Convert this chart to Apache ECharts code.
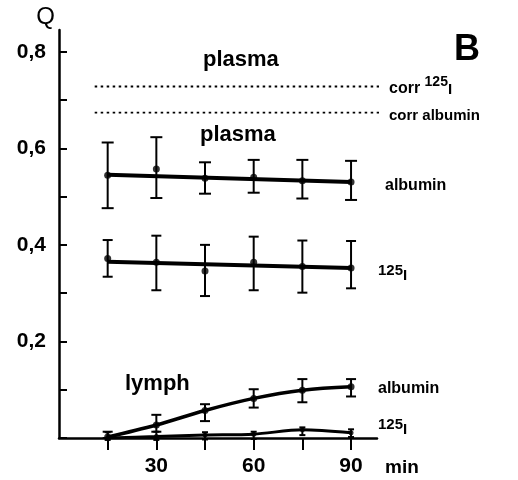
<!DOCTYPE html>
<html>
<head>
<meta charset="utf-8">
<script src="https://cdn.jsdelivr.net/npm/echarts@6/dist/echarts.min.js"></script>
<style>
  html, body { margin: 0; padding: 0; background: #fff; }
  #chart { width: 518px; height: 480px; }
</style>
</head>
<body>
<div id="chart"></div>
<script>
// minutes after injection
const minutes = [15, 30, 45, 60, 75, 90];

// plasma, albumin
const plasmaAlbumin = [0.544, 0.557, 0.538, 0.540, 0.533, 0.530];
const plasmaAlbuminLow = [0.476, 0.497, 0.506, 0.508, 0.496, 0.493];
const plasmaAlbuminHigh = [0.612, 0.623, 0.571, 0.576, 0.576, 0.574];

// plasma, 125I
const plasmaIodine = [0.372, 0.364, 0.346, 0.364, 0.355, 0.352];
const plasmaIodineLow = [0.334, 0.306, 0.294, 0.306, 0.301, 0.310];
const plasmaIodineHigh = [0.410, 0.419, 0.400, 0.417, 0.409, 0.408];

// lymph, albumin
const lymphAlbumin = [0.002, 0.027, 0.057, 0.082, 0.099, 0.106];
const lymphAlbuminLow = [0.000, 0.013, 0.035, 0.063, 0.074, 0.086];
const lymphAlbuminHigh = [0.013, 0.048, 0.070, 0.101, 0.122, 0.122];

// lymph, 125I
const lymphIodine = [0.000, 0.003, 0.006, 0.008, 0.017, 0.011];
const lymphIodineLow = [-0.004, -0.004, -0.003, -0.002, 0.006, 0.002];
const lymphIodineHigh = [0.012, 0.013, 0.012, 0.013, 0.022, 0.018];

// fitted lines for plasma
const fitX = [15, 90];
const plasmaAlbuminFit = [0.545, 0.530];
const plasmaIodineFit = [0.365, 0.352];

// corrected plasma levels (dotted)
const corrX = [11, 100.5];
const corrIodine = [0.728, 0.728];
const corrAlbumin = [0.674, 0.674];

// ticks
const xTicks = [15, 30, 45, 60, 75, 90];
const xLabels = [30, 60, 90];
const yTicks = [0, 0.1, 0.2, 0.3, 0.4, 0.5, 0.6, 0.7, 0.8];
const yLabels = [0.2, 0.4, 0.6, 0.8];

const zip = (xs, ys) => xs.map((x, i) => [x, ys[i]]);
const bars = (lo, hi) => minutes.map((x, i) => [x, lo[i], hi[i]]);

const chart = echarts.init(document.getElementById('chart'));
const font = '"Liberation Sans", Arial, sans-serif';

// error bar drawn through the axes' own scales
function errorBar(capW) {
  return function (params, api) {
    const x = api.value(0);
    const lo = api.coord([x, api.value(1)]);
    const hi = api.coord([x, api.value(2)]);
    const st = { stroke: '#000', lineWidth: 2 };
    return {
      type: 'group',
      children: [
        { type: 'line', shape: { x1: lo[0], y1: lo[1], x2: hi[0], y2: hi[1] }, style: st },
        { type: 'line', shape: { x1: hi[0] - capW, y1: hi[1], x2: hi[0] + capW, y2: hi[1] }, style: st },
        { type: 'line', shape: { x1: lo[0] - capW, y1: lo[1], x2: lo[0] + capW, y2: lo[1] }, style: st }
      ]
    };
  };
}

function dots(data) {
  return {
    type: 'scatter', data: data, symbolSize: 7,
    itemStyle: { color: '#000' }, z: 4
  };
}

function lineSeries(data, width, extra) {
  return Object.assign({
    type: 'line', data: data, symbol: 'none',
    lineStyle: { color: '#000', width: width }, z: 3
  }, extra || {});
}

const label = (size, x, y, text, extra) => ({
  type: 'text', x: x, y: y,
  style: Object.assign({
    text: text, fontSize: size, fontFamily: font, fontWeight: 'bold', fill: '#000',
    align: 'left', verticalAlign: 'middle'
  }, extra || {})
});

const iodineRich = {
  n: { fontSize: 15, fontWeight: 'bold', fontFamily: font, verticalAlign: 'top', lineHeight: 20 },
  i: { fontSize: 15, fontWeight: 'bold', fontFamily: font, verticalAlign: 'bottom', lineHeight: 20 }
};

const option = {
  animation: false,
  grid: { left: 59, right: 141, top: 30, bottom: 42 },
  xAxis: {
    type: 'value', min: 0, max: 98,
    name: 'min', nameLocation: 'end', nameGap: 8,
    nameTextStyle: {
      fontFamily: font, fontWeight: 'bold', fontSize: 19, color: '#000',
      align: 'left', verticalAlign: 'top', padding: [20, 0, 0, 0]
    },
    axisLine: { lineStyle: { color: '#000', width: 2.5 } },
    axisTick: { customValues: xTicks, inside: false, length: 12, lineStyle: { color: '#000', width: 2 } },
    axisLabel: {
      customValues: xLabels, margin: 18, color: '#000',
      fontFamily: font, fontWeight: 'bold', fontSize: 21
    },
    splitLine: { show: false }
  },
  yAxis: {
    type: 'value', min: 0, max: 0.845,
    name: 'Q', nameLocation: 'end', nameGap: 1,
    nameTextStyle: {
      fontFamily: font, fontSize: 24, color: '#000',
      align: 'right', padding: [0, 4, 0, 0]
    },
    axisLine: { lineStyle: { color: '#000', width: 2.5 } },
    axisTick: { customValues: yTicks, inside: true, length: 8, lineStyle: { color: '#000', width: 2 } },
    axisLabel: {
      customValues: yLabels, margin: 13, color: '#000',
      fontFamily: font, fontWeight: 'bold', fontSize: 21,
      formatter: v => v.toFixed(1).replace('.', ',')
    },
    splitLine: { show: false }
  },
  series: [
    lineSeries(zip(corrX, corrIodine), 1.8, { clip: false, lineStyle: { color: '#000', width: 1.8, type: [2.5, 3.5] } }),
    lineSeries(zip(corrX, corrAlbumin), 1.8, { clip: false, lineStyle: { color: '#000', width: 1.8, type: [2.5, 3.5] } }),

    lineSeries(zip(fitX, plasmaAlbuminFit), 4),
    { type: 'custom', renderItem: errorBar(6), data: bars(plasmaAlbuminLow, plasmaAlbuminHigh), z: 2 },
    dots(zip(minutes, plasmaAlbumin)),

    lineSeries(zip(fitX, plasmaIodineFit), 4),
    { type: 'custom', renderItem: errorBar(5), data: bars(plasmaIodineLow, plasmaIodineHigh), z: 2 },
    dots(zip(minutes, plasmaIodine)),

    lineSeries(zip(minutes, lymphAlbumin), 3.5, { smooth: 0.35 }),
    { type: 'custom', renderItem: errorBar(5), data: bars(lymphAlbuminLow, lymphAlbuminHigh), z: 2 },
    dots(zip(minutes, lymphAlbumin)),

    lineSeries(zip(minutes, lymphIodine), 3, { smooth: 0.3 }),
    { type: 'custom', renderItem: errorBar(3), data: bars(lymphIodineLow, lymphIodineHigh), z: 2, clip: false },
    Object.assign(dots(zip(minutes, lymphIodine)), { symbolSize: 5 })
  ],
  graphic: [
    label(36, 467, 50, 'B', { align: 'center' }),
    label(22, 203, 60, 'plasma'),
    label(22, 200, 135, 'plasma'),
    label(22, 125, 384, 'lymph'),

    label(16, 385, 186, 'albumin'),
    { type: 'text', x: 378, y: 273, style: { text: '{n|125}{i|I}', rich: iodineRich, verticalAlign: 'middle' } },
    label(16, 378, 389, 'albumin'),
    { type: 'text', x: 378, y: 427, style: { text: '{n|125}{i|I}', rich: iodineRich, verticalAlign: 'middle' } },

    {
      type: 'text', x: 389, y: 86,
      style: {
        text: '{c|corr }{n|125}{i|I}', verticalAlign: 'middle',
        rich: {
          c: { fontSize: 16, fontWeight: 'bold', fontFamily: font, verticalAlign: 'bottom', lineHeight: 22 },
          n: { fontSize: 14, fontWeight: 'bold', fontFamily: font, verticalAlign: 'top', lineHeight: 22 },
          i: { fontSize: 15, fontWeight: 'bold', fontFamily: font, verticalAlign: 'bottom', lineHeight: 22 }
        }
      }
    },
    label(15, 389, 116, 'corr albumin')
  ]
};

chart.setOption(option);
</script>
</body>
</html>
